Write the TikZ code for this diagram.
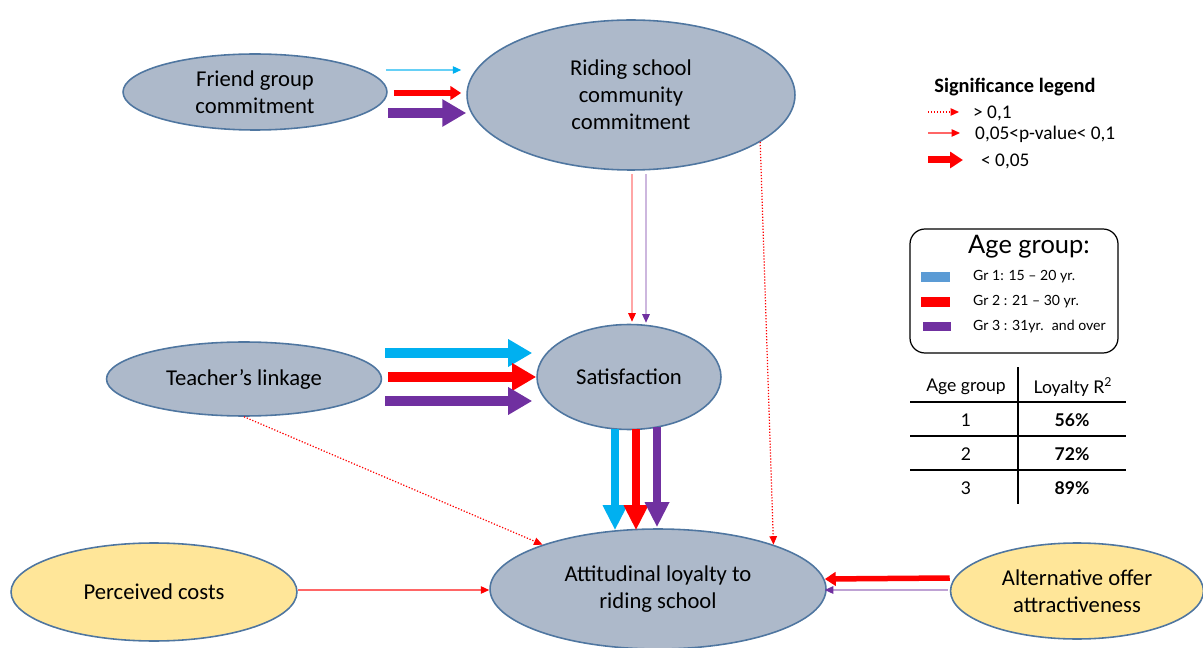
\documentclass[tikz,border=0pt]{standalone}
\usepackage{fontspec}
\setmainfont{Carlito}
\newfontfamily\gillfont{Lato}
\usetikzlibrary{calc,arrows.meta,shapes.geometric}

\definecolor{nodefill}{HTML}{ADB9CA}
\definecolor{nodeline}{HTML}{4F76A0}
\definecolor{costfill}{HTML}{FFE699}
\definecolor{grblue}{HTML}{00B0F0}
\definecolor{grred}{HTML}{FF0000}
\definecolor{grpurple}{HTML}{7030A0}
\definecolor{swblue}{HTML}{5B9BD5}

\tikzset{
  construct/.style={ellipse, draw=nodeline, fill=nodefill, line width=0.9pt, align=center, inner sep=0pt,
    font=\fontsize{12.9}{15.3}\selectfont},
  costnode/.style={construct, fill=costfill},
  bigarrow/.style={line width=0.2cm, -{Triangle[length=0.48cm,width=0.52cm]}},
  downarrow/.style={line width=0.15cm, -{Triangle[length=0.5cm,width=0.46cm]}},
  midarrow/.style={line width=0.11cm, -{Triangle[length=0.22cm,width=0.27cm]}},
  thinarrow/.style={line width=0.7pt, -{Triangle[length=0.17cm,width=0.15cm]}},
  dotarrow/.style={thinarrow, densely dotted},
  legendtext/.style={anchor=west, font=\fontsize{11}{13}\selectfont},
  agetext/.style={anchor=west, font=\gillfont\fontsize{8}{9.5}\selectfont},
  tabletext/.style={font=\gillfont\fontsize{10}{12}\selectfont}
}

\begin{document}
\begin{tikzpicture}[x=0.02cm,y=-0.02cm]
\useasboundingbox (0,0) rectangle (1203,648);

\node[construct, minimum width=5.28cm, minimum height=1.52cm] (friend) at (255,92) {Friend group\\commitment};
\node[construct, minimum width=6.56cm, minimum height=3.0cm] (riding) at (631,95) {Riding school\\community\\commitment};
\node[construct, minimum width=5.5cm, minimum height=1.48cm] (teacher) at (244,379) {Teacher’s linkage};
\node[construct, minimum width=3.68cm, minimum height=2.1cm] (satis) at (629,377) {Satisfaction};
\node[construct, minimum width=6.72cm, minimum height=2.4cm] (loyal) at (658,589) {Attitudinal loyalty to\\riding school};
\node[costnode, minimum width=5.72cm, minimum height=1.96cm] (costs) at (154,592) {Perceived costs};
\node[costnode, minimum width=5.06cm, minimum height=1.92cm] (alt) at (1077,591) {Alternative offer\\attractiveness};

\draw[thinarrow, grblue!60, -{Triangle[length=0.17cm,width=0.15cm,color=grblue]}] ($(friend.east)+(-2,-22)$) -- ($(riding.west)+(-5,-25)$);
\draw[midarrow, grred] ($(friend.east)+(6,1)$) -- ($(riding.west)+(-5,-2)$);
\draw[bigarrow, grpurple] ($(friend.east)+(0,21)$) -- ($(riding.west)+(0,18)$);

\draw[bigarrow, grblue] ($(teacher.east)+(3,-26)$) -- ($(satis.west)+(-4,-24)$);
\draw[bigarrow, grred] ($(teacher.east)+(6,-2)$) -- ($(satis.west)+(0,0)$);
\draw[bigarrow, grpurple] ($(teacher.east)+(3,22)$) -- ($(satis.west)+(-4,24)$);

\draw[downarrow, grblue] ($(satis.south)+(-14,-1)$) -- ($(loyal.north)+(-43,2)$);
\draw[downarrow, grred] ($(satis.south)+(7,-1)$) -- ($(loyal.north)+(-22,2)$);
\draw[downarrow, grpurple] ($(satis.south)+(28,-3)$) -- ($(loyal.north)+(-1,-1)$);

\draw[thinarrow, grred!35, -{Triangle[length=0.17cm,width=0.15cm,color=grred]}] ($(riding.south)+(1,3)$) -- ($(satis.north)+(3,-2)$);
\draw[thinarrow, grpurple!35, -{Triangle[length=0.17cm,width=0.15cm,color=grpurple]}] ($(riding.south)+(15,3)$) -- ($(satis.north)+(17,-1)$);

\draw[dotarrow, grred] (riding.-20) -- (loyal.21);
\draw[dotarrow, grred] (teacher.south) -- (loyal.159);
\draw[thinarrow, grred!60, -{Triangle[length=0.17cm,width=0.15cm,color=grred]}] ($(costs.east)+(0,-2)$) -- ($(loyal.west)+(0,1)$);

\draw[midarrow, grred] ($(alt.west)+(0,-13)$) -- ($(loyal.east)+(-2,-10)$);
\draw[thinarrow, grpurple!45, -{Triangle[length=0.17cm,width=0.15cm,color=grpurple]}] ($(alt.west)+(-2,-1)$) -- ($(loyal.east)+(-2,1)$);

% significance legend
\node[font=\bfseries\fontsize{11.6}{13}\selectfont] (sigtitle) at (1015,87) {Significance legend};
\node[legendtext] (sigdot) at (967,113) {> 0,1};
\node[legendtext] (sigthin) at (969,134) {0,05<p-value< 0,1};
\node[legendtext] (sigbold) at (975,161) {< 0,05};
\draw[dotarrow, grred] ($(sigdot.west)+(-39,-1)$) -- ($(sigdot.west)+(-8,-1)$);
\draw[thinarrow, grred!60, -{Triangle[length=0.17cm,width=0.15cm,color=grred]}] ($(sigthin.west)+(-41,-1)$) -- ($(sigthin.west)+(-9,-1)$);
\draw[line width=0.14cm, grred, -{Triangle[length=0.26cm,width=0.32cm]}] ($(sigbold.west)+(-47,-1)$) -- ($(sigbold.west)+(-12,-1)$);

% age groups
\draw[rounded corners=0.3cm, line width=0.7pt] (910,229) rectangle (1118,353);
\node[font=\gillfont\fontsize{14.5}{16}\selectfont] (agetitle) at (1029,247) {Age group:};
\fill[swblue] (921,272) rectangle (950,282);
\fill[grred] (921,297) rectangle (950,307);
\fill[grpurple] (923,322) rectangle (951,331);
\node[agetext] (gr1) at (967,277) {Gr 1: 15 – 20 yr.};
\node[agetext] (gr2) at (967,302) {Gr 2 : 21 – 30 yr.};
\node[agetext] (gr3) at (967,327) {Gr 3 : 31yr. \ and over};

% R squared table
\draw[line width=0.6pt] (1018,367) -- (1018,504);
\draw[line width=0.6pt] (910,402) -- (1126,402);
\draw[line width=0.6pt] (910,436) -- (1126,436);
\draw[line width=0.6pt] (910,470) -- (1126,470);
\node[tabletext] (colage) at (966,387) {Age group};
\node[tabletext] (colr) at (1073,387) {Loyalty R\textsuperscript{2}};
\node[tabletext] (row1) at (966,420) {1};
\node[tabletext] (row2) at (966,454) {2};
\node[tabletext] (row3) at (966,488) {3};
\node[tabletext, font=\gillfont\bfseries\fontsize{10}{12}\selectfont] (val1) at (1072,420) {56\%};
\node[tabletext, font=\gillfont\bfseries\fontsize{10}{12}\selectfont] (val2) at (1072,454) {72\%};
\node[tabletext, font=\gillfont\bfseries\fontsize{10}{12}\selectfont] (val3) at (1072,488) {89\%};
\end{tikzpicture}
\end{document}
